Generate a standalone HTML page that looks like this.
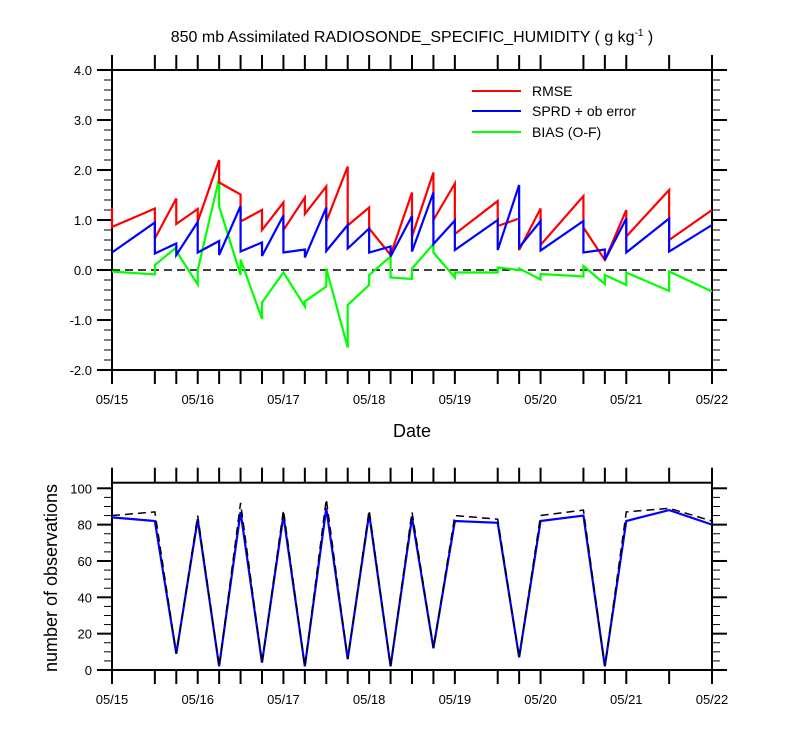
<!DOCTYPE html>
<html><head><meta charset="utf-8"><style>
body{margin:0;background:#fff}
svg text{font-family:"Liberation Sans",sans-serif;fill:#000}
</style></head><body>
<svg id="c" width="800" height="750" viewBox="0 0 800 750">
<text x="412" y="42" font-size="16" text-anchor="middle">850 mb Assimilated RADIOSONDE_SPECIFIC_HUMIDITY ( g kg<tspan font-size="10" dy="-6">-1</tspan><tspan dy="6"> )</tspan></text>
<g id="topPanel"></g>
<g id="botPanel"></g>
<text x="412" y="437" font-size="18" text-anchor="middle">Date</text>
<text transform="translate(57,578) rotate(-90)" font-size="18" text-anchor="middle">number of observations</text>
<g>
<line x1="472" y1="91" x2="521" y2="91" stroke="#f00" stroke-width="2"/>
<text x="532" y="96" font-size="14">RMSE</text>
<line x1="472" y1="111" x2="521" y2="111" stroke="#00f" stroke-width="2"/>
<text x="532" y="116" font-size="14">SPRD + ob error</text>
<line x1="472" y1="132" x2="521" y2="132" stroke="#0f0" stroke-width="2"/>
<text x="532" y="137" font-size="14">BIAS (O-F)</text>
</g>
</svg>
<script>
const times = [0,2,3,4,5,6,7,8,9,10,11,12,13,14,15,16,18,19,20,22,23,24,26,28];
const rmseIn  = [1.25,1.23,1.43,1.22,2.2,1.51,1.2,1.35,1.45,1.67,2.07,1.25,0.3,1.55,1.95,1.73,1.38,1.03,1.23,1.48,0.2,1.2,1.6,1.2];
const rmseOut = [0.86,0.63,0.92,0.97,1.75,0.97,0.8,0.8,1.12,0.97,0.89,0.83,0.3,0.67,1.0,0.72,0.88,0.4,0.5,0.85,0.2,0.67,0.6,1.2];
const sprdIn  = [0.35,0.95,0.53,0.96,0.58,1.28,0.55,1.09,0.41,1.25,0.9,0.83,0.47,1.08,1.55,0.99,1.0,1.7,0.98,0.98,0.41,1.03,1.03,0.9];
const sprdOut = [0.35,0.33,0.3,0.35,0.3,0.37,0.28,0.35,0.25,0.38,0.43,0.35,0.27,0.37,0.52,0.4,0.4,0.45,0.39,0.35,0.2,0.35,0.37,0.9];
const biasIn  = [-0.03,-0.09,0.45,-0.29,1.83,-0.1,-0.98,-0.05,-0.73,-0.33,-1.55,-0.3,0.27,-0.18,0.52,-0.15,-0.05,0.0,-0.19,-0.13,-0.28,-0.3,-0.42,-0.43];
const biasOut = [-0.03,0.1,0.38,0.0,1.27,0.21,-0.65,-0.05,-0.63,0.03,-0.7,-0.1,-0.15,0.03,0.35,-0.05,0.05,0.03,-0.08,0.08,-0.1,-0.05,-0.03,-0.43];
const obsUsed  = [84,82,9,83,2,87,4,85,2,89,6,86,2,84,12,82,81,7,82,85,2,82,88,80];
const obsTotal = [85,87,9,85,2,92,4,88,2,94,6,88,2,87,12,85,83,7,85,88,2,87,89,82];
const dayLabels = ["05/15","05/16","05/17","05/18","05/19","05/20","05/21","05/22"];
const topYTicks = [-2,-1,0,1,2,3,4];
const botYTicks = [0,20,40,60,80,100];

const NS="http://www.w3.org/2000/svg";
const X0=112,X1=712;
const xs=t=>X0+(X1-X0)*t/28;
const yTop=v=>370-(v+2)*50;
const yBot=v=>670-v*1.817;
function mk(tag,attrs,parent){const e=document.createElementNS(NS,tag);for(const k in attrs)e.setAttribute(k,attrs[k]);parent.appendChild(e);return e;}

function axes(g,yT,yB,ys,ticks,minorStep,lo,hi,fmt,prefix){
  const fr=mk('rect',{x:X0,y:yT,width:X1-X0,height:yB-yT,fill:'none',stroke:'#000','stroke-width':2},g);
  
  
  times.forEach(t=>{
    const a=mk('line',{x1:xs(t),x2:xs(t),y1:yB,y2:yB+14,stroke:'#000','stroke-width':2},g);
    
    
    const b=mk('line',{x1:xs(t),x2:xs(t),y1:yT,y2:yT-15,stroke:'#000','stroke-width':2},g);
    
    
  });
  dayLabels.forEach((d,i)=>{
    const tx=mk('text',{x:xs(i*4),y:yB+34,'font-size':13,'text-anchor':'middle'},g);
    tx.textContent=d;
    
    
  });
  for(let v=lo;v<=hi+1e-6;v+=minorStep){
    const isMaj=ticks.some(t=>Math.abs(t-v)<1e-6);
    const L=isMaj?15:8;
    const y=ys(v);
    const l=mk('line',{x1:X0-L,x2:X0,y1:y,y2:y,stroke:'#000','stroke-width':isMaj?2:1},g);
    
    
    const r=mk('line',{x1:X1,x2:X1+L,y1:y,y2:y,stroke:'#000','stroke-width':isMaj?2:1},g);
    
    
  }
  ticks.forEach(v=>{
    const tx=mk('text',{x:X0-20,y:ys(v)+5,'font-size':13,'text-anchor':'end'},g);
    tx.textContent=fmt(v);
    
    
  });
}
function pairPath(a,b,ys){
  let p=[];times.forEach((t,i)=>{p.push(xs(t)+','+ys(a[i]));p.push(xs(t)+','+ys(b[i]));});
  return 'M'+p.join('L');
}
function simplePath(a,ys){return 'M'+times.map((t,i)=>xs(t)+','+ys(a[i])).join('L');}

const topG=document.getElementById('topPanel');
axes(topG,70,370,yTop,topYTicks,0.2,-2,4,v=>v.toFixed(1),'top');
const zl=mk('line',{x1:X0,x2:X1,y1:yTop(0),y2:yTop(0),stroke:'#000','stroke-width':1.5,'stroke-dasharray':'8,5'},topG);


const pb=mk('path',{d:pairPath(biasIn,biasOut,yTop),fill:'none',stroke:'#0f0','stroke-width':2.2},topG);


const pr=mk('path',{d:pairPath(rmseIn,rmseOut,yTop),fill:'none',stroke:'#f00','stroke-width':2.2},topG);


const ps=mk('path',{d:pairPath(sprdIn,sprdOut,yTop),fill:'none',stroke:'#00f','stroke-width':2.2},topG);



const botG=document.getElementById('botPanel');
axes(botG,482.7,670,yBot,botYTicks,5,0,103,v=>String(v),'bottom');
const pu=mk('path',{d:simplePath(obsUsed,yBot),fill:'none',stroke:'#00f','stroke-width':2.2},botG);


const pt=mk('path',{d:simplePath(obsTotal,yBot),fill:'none',stroke:'#000','stroke-width':1.5,'stroke-dasharray':'8,5'},botG);


</script>
</body></html>
